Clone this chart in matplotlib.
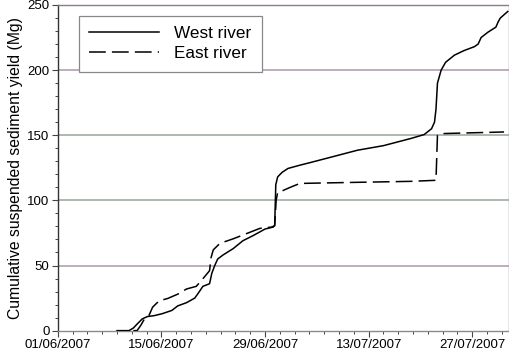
import datetime as dt
import matplotlib
matplotlib.use("Agg")
import matplotlib.pyplot as plt
import matplotlib.dates as mdates
from matplotlib.ticker import MultipleLocator

# days after 01/06/2007
west_days = [8.0, 9.6, 10.2, 10.7, 11.4, 12.1, 13.0, 14.1, 15.4, 16.2, 17.4, 18.5, 19.0, 19.6, 20.5,
             20.8, 21.2, 21.6, 22.3, 23.7, 25.0, 26.4, 28.0, 29.1, 29.3, 29.45, 29.7, 30.3, 31.1,
             32.7, 34.1, 36.8, 40.5, 44.0, 47.7, 49.5, 50.5, 50.9, 51.1, 51.3, 51.8, 52.4, 53.6,
             54.9, 56.3, 56.8, 57.2, 58.1, 59.2, 59.5, 59.8, 60.8]
west_vals = [0, 0, 2, 5, 9, 10.8, 11.5, 13, 15.5, 19, 21.5, 25, 29, 34, 36,
             44, 50, 55, 58, 63, 69, 73, 78, 79.5, 81, 112, 118, 121.5, 124.5,
             127, 129, 133, 138.5, 142, 147.5, 150.5, 155, 160, 170, 190, 200, 206, 211.5,
             215, 218, 220, 225, 229, 233, 237, 240, 245]

east_days = [10.2, 10.7, 11.2, 11.7, 12.3, 12.8, 13.7, 14.8, 16.2, 17.4, 18.7, 19.4, 20.5, 20.7,
             21.0, 21.9, 23.7, 25.5, 27.3, 28.9, 29.3, 29.5, 29.7, 30.2, 31.4, 32.7, 40.0,
             47.7, 51.1, 51.3, 52.2, 60.3]
east_vals = [0, 0, 4, 9, 11.5, 18, 23, 24.6, 28, 32, 34, 38.5, 46, 56,
             62, 67, 70.5, 74.5, 78.5, 79.5, 80.5, 100, 106, 107, 110, 113, 113.8,
             114.6, 115.4, 150, 151.3, 152.5]

series_names = ["West river", "East river"]
y_ticks = [0, 50, 100, 150, 200, 250]
x_tick_labels = ["01/06/2007", "15/06/2007", "29/06/2007", "13/07/2007", "27/07/2007"]

start = dt.datetime(2007, 6, 1)
to_dates = lambda ds: [start + dt.timedelta(days=d) for d in ds]

plt.rcParams['font.family'] = ['Liberation Sans', 'DejaVu Sans']

fig = plt.figure(figsize=(5.10, 3.54), dpi=100)
ax = fig.add_axes([0.1135, 0.066, 0.885, 0.920])

grid_colors = {50: '#bba6bb', 100: '#a8b2a8', 150: '#a8b2a8', 200: '#bba6bb'}
for yv, c in grid_colors.items():
    ax.axhline(yv, color=c, lw=1.3, zorder=1)

ax.plot(to_dates(west_days), west_vals, color='black', lw=1.1, label=series_names[0], zorder=3)
ax.plot(to_dates(east_days), east_vals, color='black', lw=1.1, dashes=(11, 4),
        label=series_names[1], zorder=3)

ax.set_xlim(start, start + dt.timedelta(days=61))
ax.set_ylim(0, 250)

tick_dates = [dt.datetime.strptime(s, "%d/%m/%Y") for s in x_tick_labels]
ax.set_xticks(tick_dates)
ax.set_xticklabels(x_tick_labels)
ax.xaxis.set_minor_locator(mdates.DayLocator(bymonthday=range(1, 32, 2)))
ax.set_yticks(y_ticks)
ax.yaxis.set_minor_locator(MultipleLocator(10))

ax.tick_params(axis='both', which='major', labelsize=9.5, length=4, width=0.8,
               color='#444444', pad=2)
ax.tick_params(axis='both', which='minor', length=2.5, width=0.7, color='#444444')

ax.set_ylabel("Cumulative suspended sediment yield (Mg)", fontsize=11.3, labelpad=3)

for s in ['right', 'bottom']:
    ax.spines[s].set_color('#8a8a8a')
ax.spines['top'].set_color('#8a7a8a')
ax.spines['left'].set_color('#333333')
for s in ax.spines.values():
    s.set_linewidth(1.0)

leg = ax.legend(loc='upper left', bbox_to_anchor=(0.046, 0.966), borderaxespad=0,
                fontsize=12.3, handlelength=4.1, handletextpad=0.9, borderpad=0.6,
                labelspacing=0.3, fancybox=False, framealpha=1, edgecolor='#888888')
leg.get_frame().set_linewidth(0.9)

fig.savefig("out.png", dpi=100)
